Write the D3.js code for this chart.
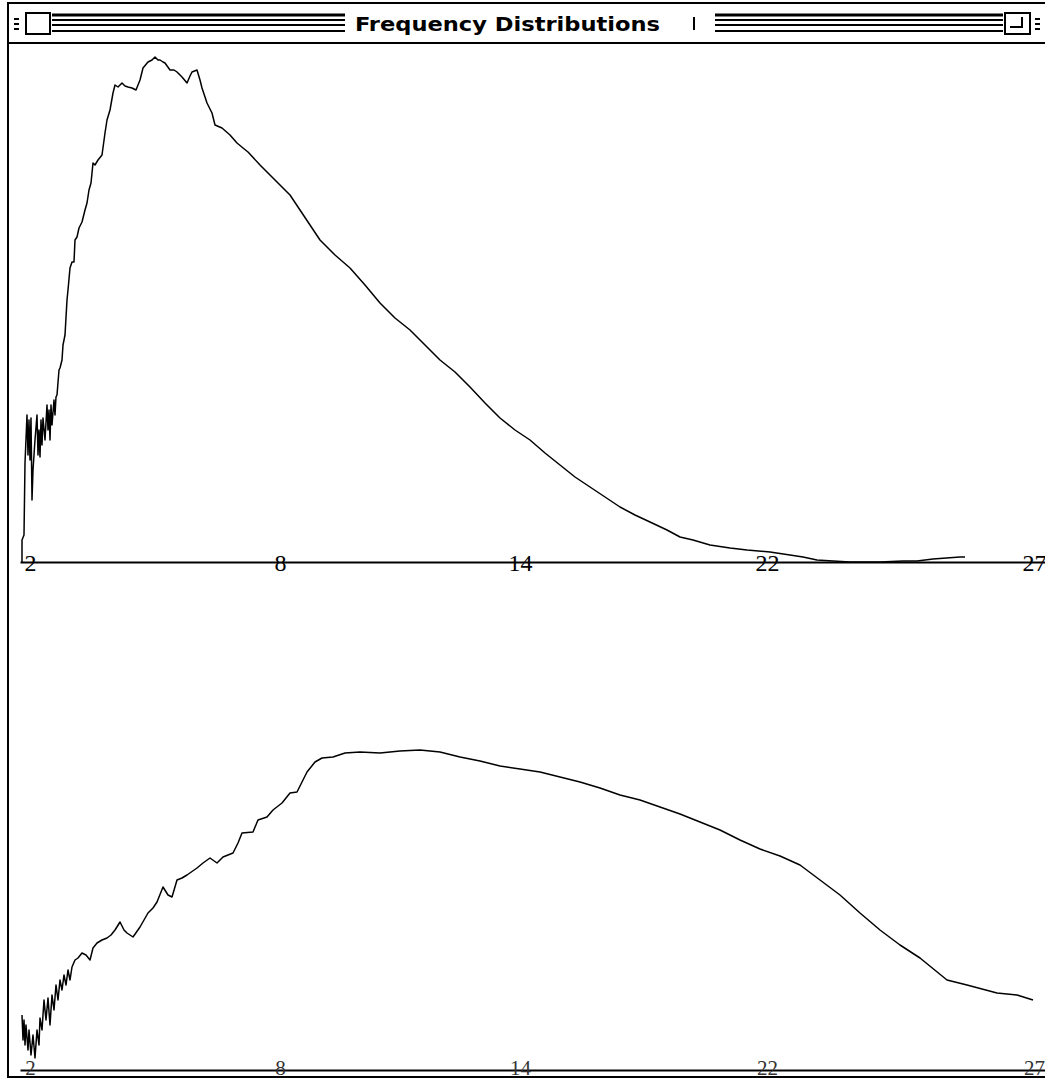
<!DOCTYPE html>
<html>
<head>
<meta charset="utf-8">
<script src="https://cdn.jsdelivr.net/npm/d3@7"></script>
<style>
  body{margin:0;background:#fff;}
  .curve{fill:none;stroke:#000;stroke-width:1.5;stroke-linejoin:round;}
</style>
</head>
<body>
<svg id="chart" width="1045" height="1080"></svg>
<script>
// bins (x = bin, y = count)
const topBins=[0,0,2,3,5,6,7,8,9,10,11,13,15,16,17,18,19,20,21,23,25,26,27,28,29,30,32,33,34,35,37,38,40,41,43,45,46,48,50,52,53,55,57,60,63,65,67,69,71,73,76,80,83,85,88,91,93,96,100,103,106,110,114,118,121,126,130,133,136,138,141,143,148,152,155,160,165,168,170,175,178,180,185,190,193,200,208,215,221,226,238,253,268,278,288,298,313,328,343,358,373,388,403,418,433,448,463,478,493,508,523,538,553,568,583,598,613,628,645,658,671,688,708,725,748,768,781,795,811,828,858,881,895,911,938,943];
const topCounts=[0,22,27,99,147,107,142,102,144,62,92,122,147,107,132,105,142,117,144,122,157,132,152,122,157,137,162,147,165,167,192,194,202,217,227,262,272,294,300,300,322,325,334,340,352,359,372,379,399,397,402,407,429,442,452,469,477,475,479,476,475,474,472,482,494,500,502,505,502,502,500,499,492,492,490,485,479,486,490,492,482,474,459,449,437,434,427,419,414,410,397,382,367,352,337,322,307,294,277,259,244,232,217,202,190,175,159,144,132,122,109,97,85,75,65,55,47,40,32,25,22,17,14,12,10,7,5,2,1,0,0,1,1,3,5,5];

const bottomBins=[0,1,2,3,4,6,7,9,11,13,15,17,18,20,22,24,26,28,30,32,34,36,38,40,42,44,46,48,50,53,56,60,64,68,71,75,80,85,89,93,98,102,105,111,118,126,131,135,141,146,150,155,160,165,175,181,188,195,201,211,216,220,231,236,245,251,260,268,275,280,285,293,300,311,323,338,358,378,398,418,438,458,478,498,518,538,558,578,598,618,638,658,678,698,718,738,758,778,798,818,838,858,878,898,925,945,975,995,1011];
const bottomCounts=[55,30,50,25,45,20,40,15,35,12,40,25,52,40,70,50,72,45,75,60,85,70,90,80,95,85,100,90,103,110,112,117,115,110,122,127,130,132,135,140,148,140,137,133,143,157,162,168,183,175,173,190,192,195,202,207,212,207,213,217,227,237,238,250,253,260,267,277,278,288,298,308,312,313,317,318,317,319,320,318,313,309,304,301,298,293,288,282,275,270,263,256,248,240,230,221,214,205,190,175,157,140,125,112,90,85,77,75,70];

const tickBins=[8,258,498,745,1012];
const tickLabels=["2","8","14","22","27"];

const title="Frequency Distributions";

let svg=d3.select("#chart");

let xScale=d3.scaleLinear().domain([-2,1023]).range([20,1045]);
let yTop=d3.scaleLinear().domain([0,520]).range([562,42]);
let yBottom=d3.scaleLinear().domain([0,520]).range([1070,550]);

// window frame
svg.append("rect")
  .attr("x",8).attr("y",3)
  .attr("width",1045).attr("height",1074)
  .attr("fill","none")
  .attr("stroke","#000")
  .attr("stroke-width",2);

svg.append("line")
  .attr("x1",8).attr("x2",1045)
  .attr("y1",43).attr("y2",43)
  .attr("stroke","#000")
  .attr("stroke-width",2);

// title bar stripes
let stripes=svg.append("g");
[15,20,25,31].forEach(function(y,i){
  stripes.append("line")
    .attr("x1",52).attr("x2",345)
    .attr("y1",y).attr("y2",y)
    .attr("stroke","#000")
    .attr("stroke-width",i==0?3:1.8);
  stripes.append("line")
    .attr("x1",715).attr("x2",1003)
    .attr("y1",y).attr("y2",y)
    .attr("stroke","#000")
    .attr("stroke-width",i==0?3:1.8);
});

// close box and zoom box
svg.append("rect")
  .attr("x",26).attr("y",13)
  .attr("width",24).attr("height",21)
  .attr("fill","#fff")
  .attr("stroke","#000")
  .attr("stroke-width",2);
svg.append("rect")
  .attr("x",1005).attr("y",13)
  .attr("width",25).attr("height",21)
  .attr("fill","#fff")
  .attr("stroke","#000")
  .attr("stroke-width",2);
svg.append("path")
  .attr("d","M1010,27 H1022 V17")
  .attr("fill","none")
  .attr("stroke","#000")
  .attr("stroke-width",2);
[[14,18],[14,23],[14,28],[1035,18],[1035,23],[1035,28]].forEach(function(p){
  svg.append("rect")
    .attr("x",p[0]).attr("y",p[1])
    .attr("width",5).attr("height",2)
    .attr("fill","#000");
});

svg.append("text")
  .attr("x",355)
  .attr("y",31)
  .attr("textLength",305)
  .attr("lengthAdjust","spacingAndGlyphs")
  .style("font-family","'DejaVu Sans Condensed','DejaVu Sans',sans-serif")
  .style("font-weight","bold")
  .style("font-size","20px")
  .text(title);

svg.append("line")
  .attr("x1",694).attr("x2",694)
  .attr("y1",17).attr("y2",30)
  .attr("stroke","#000")
  .attr("stroke-width",2);

function drawAxis(y,size,shift,colour){
  let axis=svg.append("g")
    .attr("transform","translate(0,"+y+")")
    .call(d3.axisBottom(xScale)
      .tickValues(tickBins)
      .tickSize(0)
      .tickSizeOuter(0)
      .tickFormat(function(d,i){return tickLabels[i];}));
  axis.select(".domain")
    .attr("stroke","#000")
    .attr("stroke-width",2);
  axis.selectAll("text")
    .attr("y",shift)
    .attr("dy",0)
    .style("font-family","'Liberation Serif','DejaVu Serif',serif")
    .style("font-size",size+"px")
    .attr("fill",colour);
  return axis;
}

drawAxis(562,24,9,"#000");
drawAxis(1070,21,5,"#333");

let topLine=d3.line()
  .x(function(d,i){return xScale(topBins[i]);})
  .y(function(d){return yTop(d);});

let bottomLine=d3.line()
  .x(function(d,i){return xScale(bottomBins[i]);})
  .y(function(d){return yBottom(d);});

svg.append("path")
  .data([topCounts])
  .attr("class","curve")
  .attr("d",topLine);

svg.append("path")
  .data([bottomCounts])
  .attr("class","curve")
  .attr("d",bottomLine);
</script>
</body>
</html>
